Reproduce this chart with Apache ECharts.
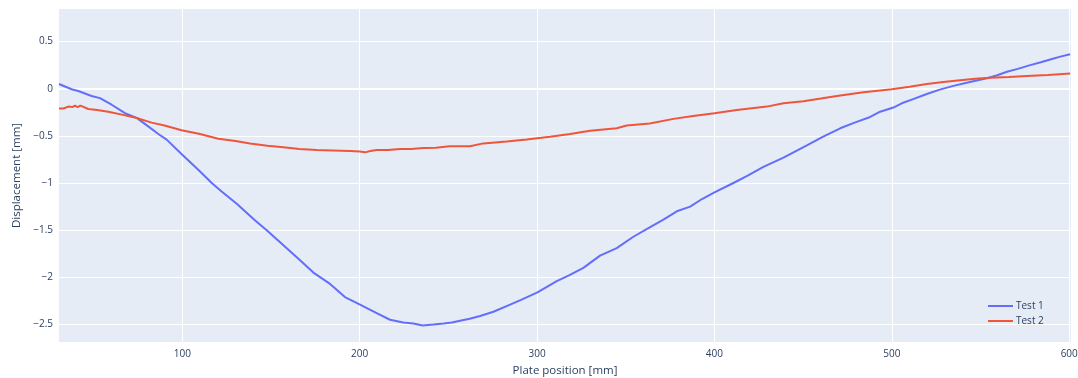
<!DOCTYPE html>
<html>
<head>
<meta charset="utf-8">
<script src="https://cdn.jsdelivr.net/npm/echarts@6/dist/echarts.min.js"></script>
<style>html,body{margin:0;padding:0;background:#fff}#c{width:1078px;height:378px}</style>
</head>
<body>
<div id="c"></div>
<script>
const test1X = [30.5,37.6,41.4,48.9,53.6,60.2,67.7,74.3,80.8,86.5,91.2,100,109,116.6,122.2,130.7,140.6,147.6,157,166.4,173.9,183.3,191.7,200.2,209.6,217.1,224.6,230.3,235.5,241.5,247.2,252,256.6,262,267.9,275.4,284.8,291,300.2,311.1,318,326.1,335.5,344.9,354.3,363.5,371,378.8,386.3,393,400,410.7,419,427.6,438.9,452.1,461,470.9,479,487.8,493.4,500.9,505.6,512,519.7,527,534.7,544,553.6,559,564.9,571,578,584,589.3,595,600.5];
const test1Y = [0.05,-0.006,-0.025,-0.077,-0.10,-0.17,-0.26,-0.31,-0.40,-0.48,-0.54,-0.70,-0.86,-1.0,-1.09,-1.22,-1.39,-1.50,-1.66,-1.82,-1.95,-2.07,-2.21,-2.29,-2.38,-2.45,-2.48,-2.49,-2.51,-2.50,-2.49,-2.48,-2.46,-2.44,-2.41,-2.365,-2.29,-2.24,-2.16,-2.04,-1.98,-1.90,-1.77,-1.69,-1.57,-1.47,-1.39,-1.30,-1.25,-1.17,-1.10,-1.0,-0.92,-0.83,-0.73,-0.60,-0.51,-0.42,-0.36,-0.30,-0.244,-0.20,-0.155,-0.11,-0.056,-0.01,0.03,0.07,0.11,0.14,0.18,0.21,0.25,0.28,0.31,0.34,0.365];
const test2X = [30.5,33,35.7,38,39.5,41,42.5,44,47,52,58.3,66,74.3,82.7,90,99.6,110,120.3,130,138.2,148,157,166,175.8,185,194.6,200,203,206,209.6,216,222.8,229,235.9,243,250.6,262.2,269.7,282.9,294.2,307.3,318.6,329.9,344.9,350.5,363.5,376.9,388,400,412.6,429.5,438.9,450.2,460,469,484,500,510,519.7,529,538.5,547,555.4,566,576.1,588,600.5];
const test2Y = [-0.21,-0.21,-0.19,-0.195,-0.18,-0.195,-0.18,-0.19,-0.215,-0.225,-0.244,-0.275,-0.31,-0.36,-0.39,-0.44,-0.48,-0.53,-0.555,-0.58,-0.605,-0.62,-0.64,-0.65,-0.655,-0.66,-0.665,-0.675,-0.66,-0.65,-0.65,-0.64,-0.64,-0.63,-0.625,-0.61,-0.61,-0.58,-0.56,-0.54,-0.51,-0.48,-0.445,-0.42,-0.39,-0.37,-0.32,-0.29,-0.26,-0.226,-0.19,-0.155,-0.134,-0.105,-0.077,-0.038,-0.007,0.02,0.05,0.07,0.09,0.105,0.117,0.125,0.135,0.145,0.16];
const xTicks = [100,200,300,400,500,600];
const yTicks = [-2.5,-2,-1.5,-1,-0.5,0,0.5];
const seriesNames = ['Test 1','Test 2'];

const font = '"Open Sans", "Noto Sans", sans-serif';
const txt = '#2a3f5f';
const fmtY = v => (v < 0 ? '\u2212' + Math.abs(v) : String(v));

const chart = echarts.init(document.getElementById('c'), null, {renderer:'canvas'});
chart.setOption({
  animation:false,
  backgroundColor:'#fff',
  textStyle:{fontFamily:font},
  grid:{left:59,right:7,top:9,bottom:36,show:true,backgroundColor:'#E5ECF6',borderWidth:0,
        containLabel:false, outerBoundsMode:'none'},
  legend:{
    orient:'vertical', left:983, top:296, itemGap:5, itemWidth:25, itemHeight:2,
    textStyle:{color:txt,fontSize:10,fontFamily:font,padding:[0,0,0,-2]},
    data:seriesNames.map(n=>({name:n,icon:'rect'}))
  },
  xAxis:{
    type:'value', min:30.5, max:601,
    name:'Plate position [mm]', nameLocation:'middle', nameGap:23,
    nameTextStyle:{color:txt,fontSize:11.5,fontFamily:font},
    axisLine:{show:false}, axisTick:{show:false, customValues:xTicks},
    axisLabel:{color:txt,fontSize:10,margin:7,customValues:xTicks},
    splitLine:{show:true,lineStyle:{color:'#fff',width:1}}
  },
  yAxis:{
    type:'value', min:-2.686, max:0.845,
    name:'Displacement [mm]', nameLocation:'middle', nameGap:36, nameRotate:90,
    nameTextStyle:{color:txt,fontSize:11.5,fontFamily:font},
    axisLine:{show:false}, axisTick:{show:false, customValues:yTicks},
    axisLabel:{color:txt,fontSize:10,margin:6,customValues:yTicks,formatter:fmtY},
    splitLine:{show:true,lineStyle:{color:'#fff',width:1}}
  },
  series:[
    {name:seriesNames[0], type:'line', showSymbol:false, symbol:'none', smooth:false,
     data:test1X.map((x,i)=>[x,test1Y[i]]), lineStyle:{color:'#636EFA',width:2}, itemStyle:{color:'#636EFA'},
     z:3,
     markLine:{silent:true,symbol:'none',label:{show:false},lineStyle:{color:'#fff',width:2,type:'solid'},data:[{yAxis:0}],z:1}},
    {name:seriesNames[1], type:'line', showSymbol:false, symbol:'none', smooth:false,
     data:test2X.map((x,i)=>[x,test2Y[i]]), lineStyle:{color:'#EF553B',width:2}, itemStyle:{color:'#EF553B'}, z:4}
  ]
});
</script>
</body>
</html>
